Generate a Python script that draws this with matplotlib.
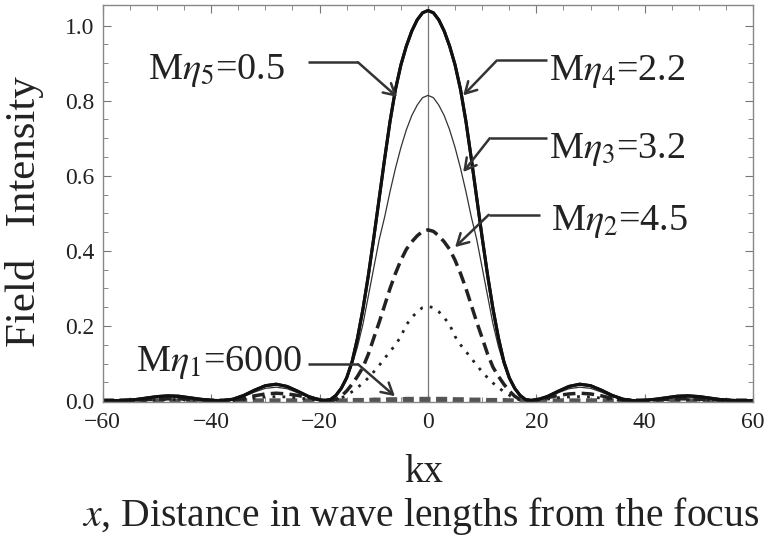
import numpy as np
import matplotlib
matplotlib.use('Agg')
import matplotlib.pyplot as plt

plt.rcParams['font.family'] = ['Liberation Serif', 'DejaVu Serif']
plt.rcParams['mathtext.fontset'] = 'stix'

# kx values for one half of the (symmetric) profile
kx_half = [0, 1, 2, 3, 4, 5, 6, 7, 8, 9, 10, 11, 12, 13, 14, 15, 16, 17, 18, 19, 20,
           22, 24, 26, 28, 30, 32, 34, 36, 38, 40, 42, 44, 46, 48, 50, 52, 54, 56, 58, 60]

# field intensity, same points as kx_half
eta5 = [1.040, 1.034, 1.015, 0.985, 0.945, 0.895, 0.830, 0.745, 0.645, 0.540, 0.435,
        0.335, 0.245, 0.168, 0.105, 0.062, 0.034, 0.015, 0.004, 0.001, 0.003,
        0.012, 0.026, 0.039, 0.045, 0.041, 0.029, 0.015, 0.005, 0.001, 0.002,
        0.005, 0.009, 0.013, 0.014, 0.012, 0.008, 0.004, 0.002, 0.001, 0.001]
eta4 = [1.040, 1.034, 1.015, 0.985, 0.945, 0.895, 0.830, 0.745, 0.645, 0.540, 0.435,
        0.335, 0.245, 0.168, 0.105, 0.062, 0.034, 0.015, 0.004, 0.001, 0.003,
        0.012, 0.026, 0.039, 0.045, 0.041, 0.029, 0.015, 0.005, 0.001, 0.002,
        0.005, 0.009, 0.013, 0.014, 0.012, 0.008, 0.004, 0.002, 0.001, 0.001]
eta3 = [0.814, 0.808, 0.788, 0.760, 0.722, 0.675, 0.620, 0.558, 0.490, 0.430, 0.355,
        0.280, 0.205, 0.145, 0.097, 0.060, 0.032, 0.013, 0.004, 0.001, 0.002,
        0.010, 0.022, 0.033, 0.037, 0.034, 0.024, 0.012, 0.004, 0.001, 0.002,
        0.004, 0.008, 0.010, 0.011, 0.010, 0.007, 0.003, 0.001, 0.001, 0.001]
eta2 = [0.456, 0.452, 0.440, 0.424, 0.404, 0.375, 0.340, 0.300, 0.255, 0.210, 0.168,
        0.125, 0.090, 0.066, 0.045, 0.027, 0.013, 0.004, 0.001, 0.002, 0.004,
        0.009, 0.015, 0.019, 0.021, 0.019, 0.014, 0.007, 0.002, 0.001, 0.001,
        0.003, 0.005, 0.006, 0.006, 0.005, 0.004, 0.002, 0.001, 0.001, 0.001]
dotted = [0.252, 0.249, 0.238, 0.222, 0.203, 0.172, 0.150, 0.132, 0.114, 0.095, 0.078,
          0.062, 0.048, 0.036, 0.025, 0.016, 0.008, 0.003, 0.001, 0.001, 0.002,
          0.005, 0.009, 0.011, 0.012, 0.011, 0.008, 0.004, 0.001, 0.001, 0.001,
          0.002, 0.003, 0.004, 0.004, 0.003, 0.002, 0.001, 0.001, 0.001, 0.001]
eta1 = [0.004, 0.004, 0.004, 0.004, 0.004, 0.003, 0.003, 0.003, 0.002, 0.002, 0.002,
        0.001, 0.001, 0.001, 0.001, 0.0, 0.0, 0.0, 0.0, 0.0, 0.0,
        0.0, 0.0, 0.0, 0.0, 0.0, 0.0, 0.0, 0.0, 0.0, 0.0,
        0.0, 0.0, 0.0, 0.0, 0.0, 0.0, 0.0, 0.0, 0.0, 0.0]


def both_sides(v):
    v = np.array(v)
    return np.concatenate([v[::-1], v[1:]])


kx = np.concatenate([-np.array(kx_half)[::-1], np.array(kx_half)[1:]])

fig = plt.figure(figsize=(7.67, 5.45), dpi=100)
ax = fig.add_axes([0.134, 0.262, 0.848, 0.729])

ax.axvline(0, color='#777777', lw=0.9, zorder=1)
ax.plot(kx, both_sides(eta1), color='#555555', lw=4, ls=(0, (2, 1)), zorder=2)
ax.plot(kx, both_sides(dotted), color='#222222', lw=2, ls=(0, (1.0, 2.6)))
ax.plot(kx, both_sides(eta2), color='#222222', lw=2.5, ls=(0, (3.6, 1.8)))
ax.plot(kx, both_sides(eta3), color='#333333', lw=0.9)
ax.plot(kx, both_sides(eta5), color='#111111', lw=2.2)
ax.plot(kx, both_sides(eta4), color='#111111', lw=2.2)

ax.set_xlim(-60, 60)
ax.set_ylim(-0.003, 1.055)
ax.set_xticks([-60, -40, -20, 0, 20, 40, 60])
ax.set_xticks(np.arange(-60, 61, 5), minor=True)
ax.set_yticks([0.0, 0.2, 0.4, 0.6, 0.8, 1.0])
ax.set_yticks(np.arange(0, 1.05, 0.05), minor=True)
ax.set_xticklabels(['\u221260', '\u221240', '\u221220', '0', '20', '40', '60'])
ax.set_yticklabels(['0.0', '0.2', '0.4', '0.6', '0.8', '1.0'])
ax.tick_params(which='both', direction='in', top=True, right=True,
               color='#777777', labelsize=17, labelcolor='#222222')
ax.tick_params(axis='x', pad=7)
ax.tick_params(axis='y', pad=6)
ax.tick_params(which='major', length=6)
ax.tick_params(which='minor', length=3.5)
for s in ax.spines.values():
    s.set_color('#888888')
    s.set_linewidth(1.0)

# labels with elbow arrows
acol = '#333333'
labels = [
    (r'M$\eta_5$=0.5', -26.3, 0.859, 'right', -22.1, -12.9, 0.902, (-5.7, 0.81)),
    (r'M$\eta_4$=2.2', 22.3, 0.854, 'left', 22.0, 12.7, 0.907, (6.5, 0.814)),
    (r'M$\eta_3$=3.2', 22.3, 0.647, 'left', 22.0, 11.4, 0.700, (6.5, 0.61)),
    (r'M$\eta_2$=4.5', 22.7, 0.456, 'left', 20.7, 11.2, 0.496, (5.0, 0.41)),
    (r'M$\eta_1$=6000', -23.2, 0.080, 'right', -22.1, -12.9, 0.098, (-6.1, 0.013)),
]
for txt, tx, ty, ha, x0, x1, ly, tip in labels:
    ax.text(tx, ty, txt, fontsize=27.5, ha=ha, va='baseline', color='#222222')
    ax.plot([x0, x1], [ly, ly], color=acol, lw=1.8, solid_capstyle='butt')
    ax.annotate('', xy=tip, xytext=(x1, ly),
                arrowprops=dict(arrowstyle='->,head_length=0.8,head_width=0.45',
                                color=acol, lw=1.8, shrinkA=0, shrinkB=0))

fig.text(25 / 767, 1 - 212 / 545, 'Field   Intensity', rotation=90, fontsize=31,
         ha='center', va='center', color='#222222')
fig.text(424 / 767, 1 - 473 / 545, 'kx', fontsize=28, ha='center', va='center',
         color='#222222')
fig.text(421 / 767, 1 - 516 / 545, r'$x$, Distance in wave lengths from the focus',
         fontsize=28.5, ha='center', va='center', color='#222222')

fig.savefig('out.png', dpi=100)
